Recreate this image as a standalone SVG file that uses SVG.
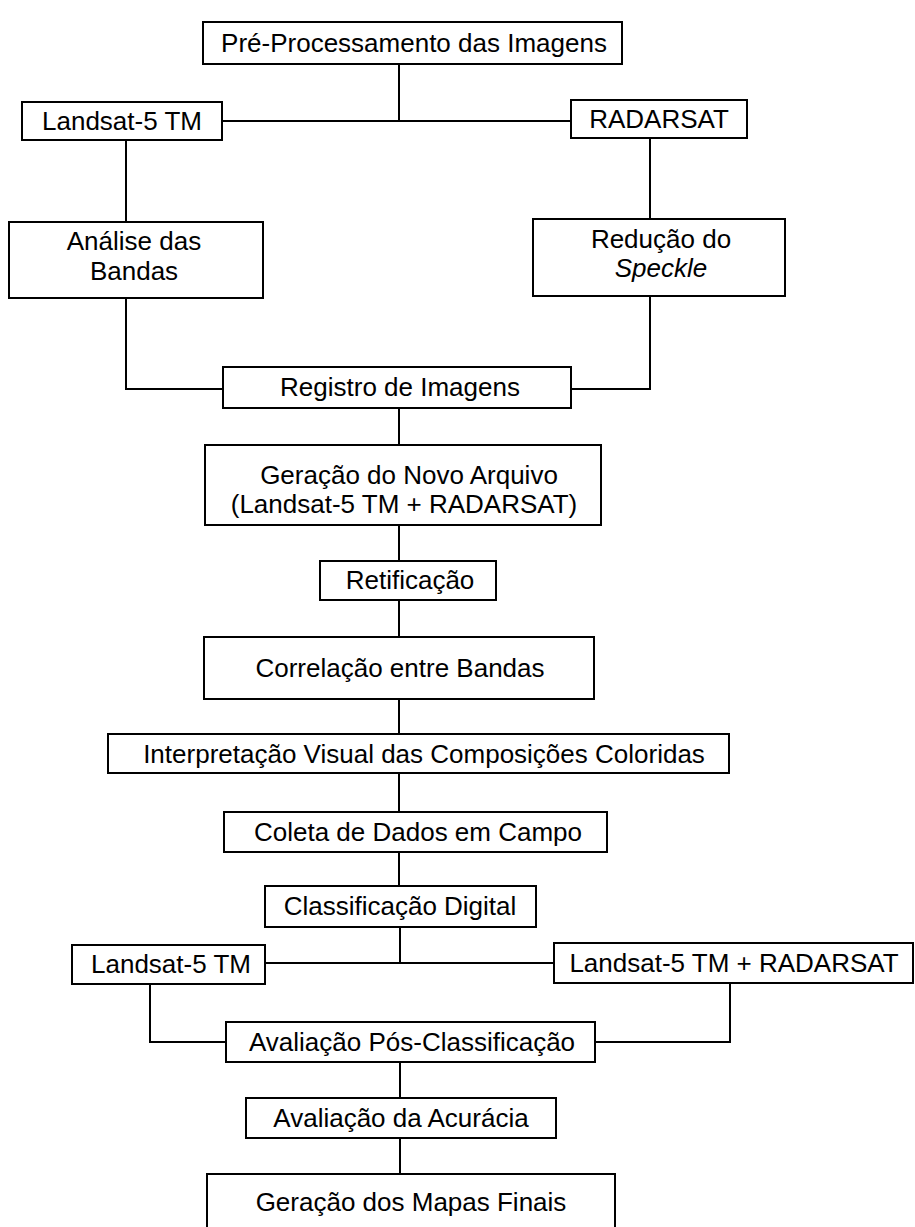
<svg xmlns="http://www.w3.org/2000/svg" width="915" height="1227" viewBox="0 0 915 1227">
<style>
.box{fill:#fff;stroke:#000;stroke-width:2}
.t{font-family:"Liberation Sans",Arial,sans-serif;font-size:26px;fill:#000;text-anchor:middle}
.c{fill:none;stroke:#000;stroke-width:2}
</style>
<rect width="915" height="1227" fill="#fff"/>
<g id="connectors">
<path class="c" d="M399,64V121M222,121H571"/>
<path class="c" d="M126,140V222M650,138V219"/>
<path class="c" d="M126,298V389H223M650,296V389H571"/>
<path class="c" d="M399,408V445M399,525V561M399,600V637M399,699V734M399,773V812M399,852V886"/>
<path class="c" d="M400,927V963M265,963H554"/>
<path class="c" d="M150,984V1042H226M730,983V1042H595"/>
<path class="c" d="M400,1062V1098M400,1138V1174"/>
</g>
<g id="pre"><rect class="box" x="203" y="22" width="419" height="42"/><text class="t" x="414" y="52">Pré-Processamento das Imagens</text></g>
<g id="landsat1"><rect class="box" x="22" y="102" width="200" height="38"/><text class="t" x="122" y="130">Landsat-5 TM</text></g>
<g id="radarsat"><rect class="box" x="571" y="100" width="176" height="38"/><text class="t" x="659" y="128">RADARSAT</text></g>
<g id="analise"><rect class="box" x="9" y="222" width="254" height="76"/><text class="t" x="134" y="250">Análise das</text><text class="t" x="134" y="280">Bandas</text></g>
<g id="reducao"><rect class="box" x="533" y="219" width="252" height="77"/><text class="t" x="661" y="248">Redução do</text><text class="t" x="661" y="277" font-style="italic">Speckle</text></g>
<g id="registro"><rect class="box" x="223" y="367" width="348" height="41"/><text class="t" x="400" y="396">Registro de Imagens</text></g>
<g id="geracao"><rect class="box" x="205" y="445" width="396" height="80"/><text class="t" x="409" y="484">Geração do Novo Arquivo</text><text class="t" x="404" y="513">(Landsat-5 TM + RADARSAT)</text></g>
<g id="retificacao"><rect class="box" x="320" y="561" width="176" height="39"/><text class="t" x="410" y="589">Retificação</text></g>
<g id="correlacao"><rect class="box" x="204" y="637" width="390" height="62"/><text class="t" x="400" y="677">Correlação entre Bandas</text></g>
<g id="interpretacao"><rect class="box" x="108" y="734" width="621" height="39"/><text class="t" x="424" y="763">Interpretação Visual das Composições Coloridas</text></g>
<g id="coleta"><rect class="box" x="224" y="812" width="383" height="40"/><text class="t" x="418" y="841">Coleta de Dados em Campo</text></g>
<g id="classificacao"><rect class="box" x="265" y="886" width="271" height="41"/><text class="t" x="400" y="915">Classificação Digital</text></g>
<g id="landsat2"><rect class="box" x="72" y="945" width="193" height="39"/><text class="t" x="171" y="973">Landsat-5 TM</text></g>
<g id="landsatradar"><rect class="box" x="554" y="943" width="359" height="40"/><text class="t" x="734" y="972">Landsat-5 TM + RADARSAT</text></g>
<g id="avaliacaopos"><rect class="box" x="226" y="1022" width="369" height="40"/><text class="t" x="412" y="1051">Avaliação Pós-Classificação</text></g>
<g id="acuracia"><rect class="box" x="246" y="1098" width="310" height="40"/><text class="t" x="401" y="1127">Avaliação da Acurácia</text></g>
<g id="mapas"><rect class="box" x="207" y="1174" width="408" height="70"/><text class="t" x="411" y="1211">Geração dos Mapas Finais</text></g>
</svg>
